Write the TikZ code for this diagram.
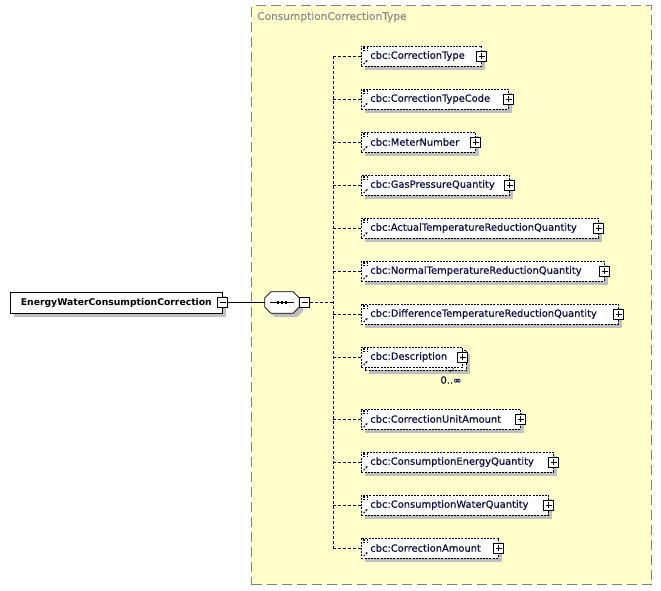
\documentclass[tikz,border=0pt]{standalone}
\usepackage{fontspec}
\setmainfont{DejaVu Sans}
\newfontfamily\cfont[FakeBold=0.35]{DejaVu Sans}
\usetikzlibrary{shadows,arrows.meta}
\definecolor{yel}{HTML}{FFFFCC}
\definecolor{navy}{HTML}{0A0A40}
\definecolor{ttl}{HTML}{8C8C8C}
\tikzset{
  shd/.style={drop shadow={shadow xshift=4pt,shadow yshift=-4pt,fill=black!25,opacity=1}},
  typebox/.style={draw=black!50, fill=yel, line width=1.1pt, dash pattern=on 10pt off 5pt, inner sep=0, anchor=north west},
  rootbox/.style={draw, fill=white, line width=0.7pt, minimum height=21, inner sep=0, anchor=west, shd, text=black, font=\fontsize{9.25}{11}\selectfont\bfseries},
  icon/.style={path picture={
     \draw[line width=0.5pt] ([xshift=2pt,yshift=-1.3pt]path picture bounding box.north west) -- ++(5pt,0pt)
       ([xshift=2pt,yshift=-2.7pt]path picture bounding box.north west) -- ++(5pt,0pt)
       ([xshift=2pt,yshift=-4.1pt]path picture bounding box.north west) -- ++(5pt,0pt);
     \draw[line width=0.8pt,-{Stealth[length=2.2pt,width=2.4pt]}] ([xshift=2.2pt,yshift=1.8pt]path picture bounding box.south west) -- ++(4pt,4pt);}},
  childbase/.style={draw, fill=white, dash pattern=on 2pt off 1.2pt, line width=0.6pt, minimum height=20, inner xsep=0, inner ysep=0, text width=#1, align=left, anchor=west, text=navy, font=\cfont\fontsize{9.9}{11}\selectfont},
  child/.style={childbase=#1, shd, icon},
  expander/.style={draw, fill=white, solid, minimum size=10, inner sep=0, line width=0.6pt},
  minus/.style={expander, path picture={\draw[line width=0.6pt] ([xshift=2pt]path picture bounding box.west) -- ([xshift=-2pt]path picture bounding box.east);}},
  plus/.style={expander, path picture={\draw[line width=0.6pt] ([xshift=2pt]path picture bounding box.west) -- ([xshift=-2pt]path picture bounding box.east) ([yshift=2pt]path picture bounding box.south) -- ([yshift=-2pt]path picture bounding box.north);}},
  conn/.style={line width=0.6pt, dash pattern=on 3pt off 2pt},
  solidconn/.style={line width=0.7pt}
}
\begin{document}
\begin{tikzpicture}[x=1pt,y=-1pt]
\useasboundingbox (0,0) rectangle (661,590);
% type container
\node[typebox, minimum width=400, minimum height=579] (type) at (251,5) {};
\node[anchor=west, text=ttl, inner sep=0, font=\cfont\fontsize{10.6}{12}\selectfont] (title) at (257,17) {ConsumptionCorrectionType};
% root
\node[rootbox, minimum width=212] (root) at (10,302.5) {EnergyWaterConsumptionCorrection};
\node[minus] (xroot) at (root.east) {};
% sequence
\node[minimum width=34, minimum height=21, inner sep=0] (seq) at (282,302.5) {};
\fill[black!25, transform canvas={shift={(4pt,-4pt)}}] ([xshift=6pt]seq.north west) -- ([xshift=-6pt]seq.north east) -- ([yshift=-6pt]seq.north east) -- ([yshift=6pt]seq.south east) -- ([xshift=-6pt]seq.south east) -- ([xshift=6pt]seq.south west) -- ([yshift=6pt]seq.south west) -- ([yshift=-6pt]seq.north west) -- cycle;
\draw[fill=white, line width=0.7pt] ([xshift=6pt]seq.north west) -- ([xshift=-6pt]seq.north east) -- ([yshift=-6pt]seq.north east) -- ([yshift=6pt]seq.south east) -- ([xshift=-6pt]seq.south east) -- ([xshift=6pt]seq.south west) -- ([yshift=6pt]seq.south west) -- ([yshift=-6pt]seq.north west) -- cycle;
\draw[line width=0.6pt] ([xshift=5pt]seq.west) -- ([xshift=-5pt]seq.east);
\foreach \d in {-4,0,4} \fill ([xshift=\d pt]seq.center) +(-1.3,-1.3) rectangle +(1.3,1.3);
\node[minus, anchor=west] (xseq) at (seq.east) {};
\draw[solidconn] (xroot.east) -- (seq.west);
\coordinate (bus) at (333,302.5);
\draw[conn] (xseq.east) -- (bus);
% children
\foreach \n/\y/\w/\t in {
 c1/56/120/CorrectionType,
 c2/99/147/CorrectionTypeCode,
 c3/142/114/MeterNumber,
 c4/185/148/GasPressureQuantity,
 c5/228/237/ActualTemperatureReductionQuantity,
 c6/271/243/NormalTemperatureReductionQuantity,
 c7/314/257/DifferenceTemperatureReductionQuantity,
 c9/419/159/CorrectionUnitAmount,
 c10/462/192/ConsumptionEnergyQuantity,
 c11/505/187/ConsumptionWaterQuantity,
 c12/548/137/CorrectionAmount}{
  \node[child=\w pt] (\n) at (361,\y) {\hspace*{9pt}cbc:\t};
  \node[plus] (x\n) at (\n.east) {};
  \draw[conn] (\n.west -| bus) -- (\n.west);
}
% description (multiple occurrence)
\node[childbase=101pt, shd] (c8b) at (365,360) {};
\node[childbase=101pt, icon] (c8) at (361,357) {\hspace*{9pt}cbc:Description};
\node[plus] (xc8) at (c8.east) {};
\draw[conn] (c8.west -| bus) -- (c8.west);
\draw[line width=0.6pt, dash pattern=on 1.5pt off 1pt] (446,368) -- (450,372) -- (454,368);
\node[text=navy, inner sep=0, font=\cfont\fontsize{10}{11}\selectfont] (occ) at (451,380) {0..∞};
% bus line
\draw[conn] (c1.west -| bus) -- (c12.west -| bus);
\end{tikzpicture}
\end{document}
